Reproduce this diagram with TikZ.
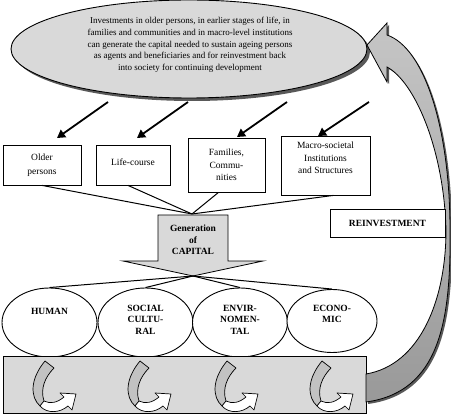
\documentclass[tikz,border=0pt]{standalone}
\usepackage{fontspec}
\setmainfont{Liberation Serif}
\usetikzlibrary{arrows.meta,shapes.geometric}
\definecolor{panel}{gray}{0.85}
\definecolor{shadowgray}{gray}{0.35}

% outline of the large return arrow (pixel-like units, y grows downward)
\def\returnarrow{(367,45) -- (387,23) -- (387,35)
  .. controls (425,48) and (450,130) .. (450,230)
  .. controls (451,320) and (440,392) .. (366,402)
  -- (366,374)
  .. controls (420,365) and (446,300) .. (446,230)
  .. controls (444,150) and (415,82) .. (387,67)
  -- (387,82) -- cycle}

\begin{document}
\begin{tikzpicture}[x=1pt,y=-1pt,
  plainbox/.style={draw, fill=white, line width=0.8pt, inner sep=0, align=center,
    font=\fontsize{9.5}{12.5}\selectfont},
  capell/.style={ellipse, draw, fill=white, line width=0.9pt, inner sep=0,
    minimum width=95pt, minimum height=69pt},
  boldlab/.style={font=\bfseries\fontsize{9.5}{11.5}\selectfont, align=center, inner sep=0},
  feed/.style={line width=1.8pt, -{Triangle[length=8pt,width=9pt]}},
  fan/.style={line width=1pt},
  twistgray/.style={fill=panel!75!gray, draw=black, line width=0.7pt, line join=round},
  twistwhite/.style={fill=white, draw=black, line width=0.7pt, line join=round}]
\useasboundingbox (0,0) rectangle (451,414);

% top ellipse with its drop shadow
\fill[shadowgray] (192,52) ellipse [x radius=178pt, y radius=49pt];
\node[ellipse, draw, fill=panel, line width=0.9pt, inner sep=0,
      minimum width=356pt, minimum height=98pt] (inv) at (189,49) {};
\node[align=center, inner sep=0, font=\fontsize{9}{11.6}\selectfont] (invtext) at (190,45)
  {Investments in older persons, in earlier stages of life, in\\
   families and communities and in macro-level institutions\\
   can generate the capital needed to sustain ageing persons\\
   as agents and beneficiaries and for reinvestment back\\
   into society for continuing development};

% four fields of investment
\node[plainbox, minimum width=78pt, minimum height=40pt] (b1) at (42,165) {Older\\[2pt]persons};
\node[plainbox, minimum width=74pt, minimum height=40pt] (b2) at (133,165) {\raisebox{5pt}{Life-course}};
\node[plainbox, minimum width=77pt, minimum height=54pt] (b3) at (226.5,165) {Families,\\Commu-\\nities};
\node[plainbox, minimum width=89pt, minimum height=59pt] (b4) at (325.5,165.5) {Macro-societal\\Institutions\\and Structures\\[3pt]};

% arrows from the ellipse to the fields
\coordinate (s1) at (108,102); \coordinate (t1) at (57,138);
\coordinate (s2) at (188,102); \coordinate (t2) at (137,138);
\coordinate (s3) at (287,102); \coordinate (t3) at (237,137);
\coordinate (s4) at (369,102); \coordinate (t4) at (318,136);
\foreach \i in {1,...,4} \draw[feed] (s\i) -- (t\i);

% fields converge on the capital arrow
\coordinate (g) at (192,214);
\draw[fan] (b1.south) -- (g);
\draw[fan] ([xshift=-5pt]b2.south) -- (g);
\draw[fan] ([xshift=-8pt]b3.south) -- (g);
\draw[fan] ([xshift=8pt]b4.south) -- (g);

% generation of capital
\filldraw[fill=panel, draw=black, line width=0.8pt]
  (158,215) -- (228,215) -- (228,261) -- (263,261) -- (193,276) -- (123,261) -- (158,261) -- cycle;
\coordinate (gt) at (193,276);
\node[boldlab] (gen) at (193,240) {Generation\\of\\CAPITAL};

% forms of capital
\node[capell] (e1) at (49.5,322.5) {};
\node[capell] (e2) at (145.5,322.5) {};
\node[capell] (e3) at (240,322.5) {};
\node[capell, minimum width=90pt, minimum height=63pt] (e4) at (332,321) {};
\foreach \i in {1,...,4} \draw[fan] (gt) -- (e\i.north);
\node[boldlab, anchor=north] at (49.5,308) {HUMAN};
\node[boldlab, anchor=north] at (145.5,305) {SOCIAL\\CULTU-\\RAL};
\node[boldlab, anchor=north] at (240,305) {ENVIR-\\NOMEN-\\TAL};
\node[boldlab, anchor=north] at (332,305) {ECONO-\\MIC};

% returns panel with twisted arrows
\node[draw, fill=panel, line width=0.8pt, minimum width=363pt, minimum height=57pt,
      inner sep=0] (base) at (184.5,384.5) {};
\foreach \ox in {30,125,212,307} {
  \begin{scope}[shift={(\ox,359)}]
    \filldraw[twistgray] (15,2) -- (24,9) .. controls (15,18) and (10,30) .. (14,42)
      -- (10,47) .. controls (0,38) and (0,20) .. (15,2) -- cycle;
    \filldraw[twistwhite] (10,47) .. controls (17,55) and (30,54) .. (38,47)
      -- (42,51) -- (46,35) -- (30,34) -- (34,38)
      .. controls (27,44) and (20,45) .. (14,42) -- cycle;
  \end{scope}
}

% large return arrow back to the top ellipse
\fill[shadowgray, shift={(2,2)}] \returnarrow;
\shadedraw[top color=gray!45, bottom color=gray!80, draw=black, line width=0.8pt] \returnarrow;

\node[plainbox, font=\bfseries\fontsize{9.5}{11.5}\selectfont,
      minimum width=115pt, minimum height=28pt] (reinv) at (387.5,223) {REINVESTMENT};
\end{tikzpicture}
\end{document}
